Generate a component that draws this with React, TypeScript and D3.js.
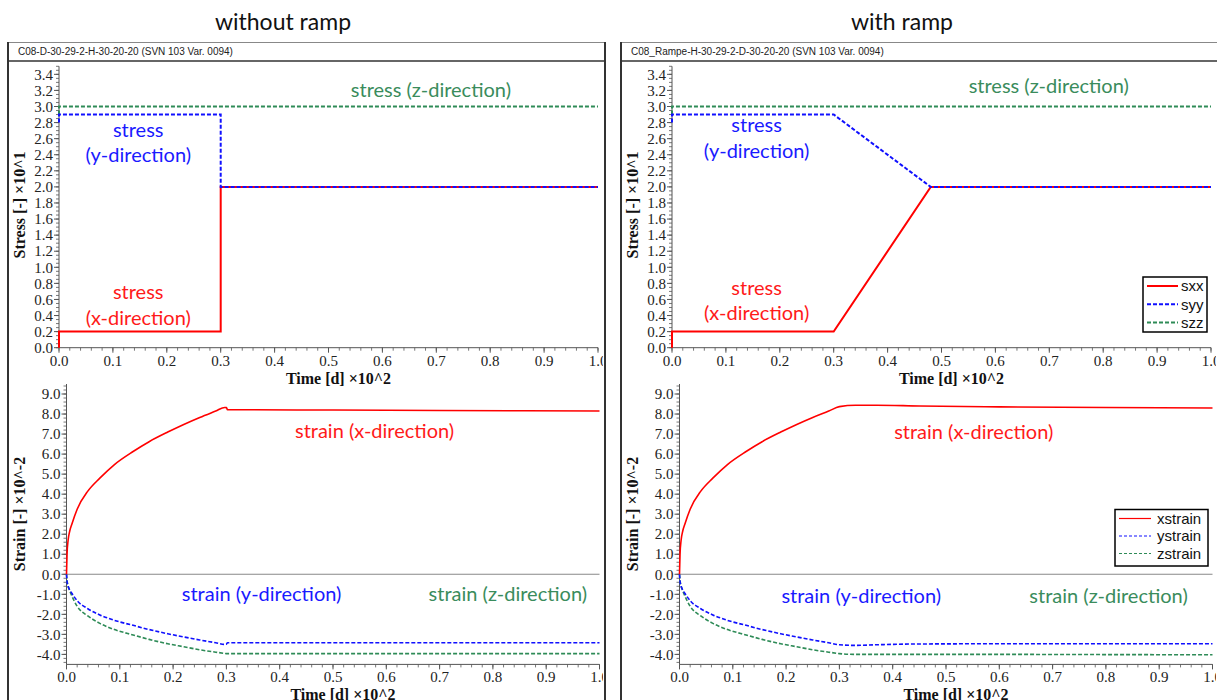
import React from "react";
import * as d3 from "d3";

// ---------- DATA ----------
const panelTitles = ["without ramp", "with ramp"];
const headerTexts = [
  "C08-D-30-29-2-H-30-20-20 (SVN 103 Var. 0094)",
  "C08_Rampe-H-30-29-2-D-30-20-20 (SVN 103 Var. 0094)",
];

// stress (x10^1), time (x10^2 d)
const sxxTimeL = [0, 0, 0.3, 0.3, 1.0];
const sxxL = [0, 0.2, 0.2, 2.0, 2.0];
const syyTimeL = [0, 0, 0.3, 0.3, 1.0];
const syyL = [2.8, 2.9, 2.9, 2.0, 2.0];
const szzTimeL = [0, 0, 1.0];
const szzL = [2.9, 3.0, 3.0];

const sxxTimeR = [0, 0, 0.3, 0.48, 1.0];
const sxxR = [0, 0.2, 0.2, 2.0, 2.0];
const syyTimeR = [0, 0, 0.3, 0.48, 1.0];
const syyR = [2.8, 2.9, 2.9, 2.0, 2.0];
const szzTimeR = [0, 0, 1.0];
const szzR = [2.9, 3.0, 3.0];

// strain (x10^-2)
const strainTimeL = [0, 0.001, 0.003, 0.006, 0.01, 0.02, 0.04, 0.0625, 0.09, 0.125, 0.155, 0.19, 0.22, 0.25, 0.28, 0.297, 0.3, 0.302, 0.5, 0.7, 1.0];
const xstrainL = [0, 1.0, 1.7, 2.15, 2.5, 3.25, 4.15, 4.8, 5.48, 6.13, 6.62, 7.1, 7.48, 7.83, 8.15, 8.33, 8.32, 8.22, 8.2, 8.18, 8.15];
const ystrainL = [0, -0.35, -0.6, -0.78, -0.95, -1.32, -1.72, -2.03, -2.3, -2.55, -2.76, -2.97, -3.13, -3.28, -3.42, -3.5, -3.49, -3.42, -3.42, -3.42, -3.42];
const zstrainL = [0, -0.3, -0.58, -0.82, -1.08, -1.6, -2.08, -2.45, -2.76, -3.03, -3.25, -3.47, -3.62, -3.77, -3.89, -3.95, -3.96, -3.96, -3.96, -3.96, -3.96];

const strainTimeR = [0, 0.001, 0.003, 0.006, 0.01, 0.02, 0.04, 0.0625, 0.09, 0.125, 0.155, 0.19, 0.22, 0.25, 0.28, 0.3, 0.33, 0.37, 0.45, 0.6, 0.8, 1.0];
const xstrainR = [0, 1.0, 1.7, 2.15, 2.5, 3.25, 4.15, 4.8, 5.48, 6.13, 6.62, 7.1, 7.48, 7.83, 8.15, 8.37, 8.44, 8.44, 8.4, 8.36, 8.33, 8.3];
const ystrainR = [0, -0.35, -0.6, -0.78, -0.95, -1.32, -1.72, -2.03, -2.3, -2.55, -2.76, -2.97, -3.13, -3.28, -3.42, -3.52, -3.55, -3.52, -3.48, -3.47, -3.47, -3.47];
const zstrainR = [0, -0.3, -0.58, -0.82, -1.08, -1.6, -2.08, -2.45, -2.76, -3.03, -3.25, -3.47, -3.62, -3.77, -3.89, -3.96, -4.0, -4.0, -4.0, -4.0, -4.01, -4.02];

const stressLegend = ["sxx", "syy", "szz"];
const strainLegend = ["xstrain", "ystrain", "zstrain"];

// annotations in data coordinates: [text, t, value, colorKey]
const stressNotesL: [string, number, number, string][] = [
  ["stress (z-direction)", 0.69, 3.2, "z"],
  ["stress", 0.147, 2.71, "y"],
  ["(y-direction)", 0.147, 2.4, "y"],
  ["stress", 0.147, 0.69, "x"],
  ["(x-direction)", 0.147, 0.37, "x"],
];
const stressNotesR: [string, number, number, string][] = [
  ["stress (z-direction)", 0.699, 3.25, "z"],
  ["stress", 0.157, 2.77, "y"],
  ["(y-direction)", 0.157, 2.45, "y"],
  ["stress", 0.157, 0.74, "x"],
  ["(x-direction)", 0.157, 0.43, "x"],
];
const strainNotesL: [string, number, number, string][] = [
  ["strain (x-direction)", 0.578, 7.15, "x"],
  ["strain (y-direction)", 0.366, -0.98, "y"],
  ["strain (z-direction)", 0.828, -0.98, "z"],
];
const strainNotesR: [string, number, number, string][] = [
  ["strain (x-direction)", 0.552, 7.1, "x"],
  ["strain (y-direction)", 0.341, -1.08, "y"],
  ["strain (z-direction)", 0.805, -1.08, "z"],
];

// ---------- STYLE ----------
const RED = "#ff0000";
const BLUE = "#1010ff";
const GREEN = "#2e8b57";
const TXT: Record<string, string> = { x: "#ff1a1a", y: "#1a1aff", z: "#3a8c5c" };
const SERIF = "'Liberation Serif', 'Times New Roman', serif";
const SANS = "Arial, 'Liberation Sans', sans-serif";
const NOTE = "Lato, 'Open Sans', sans-serif";

const zip = (t: number[], v: number[]) => t.map((d, i) => [d, v[i]] as [number, number]);

type Series = { pts: [number, number][]; color: string; width: number; dash?: string };

function Axes({ x, y, yTicks, yMinor, xTitleY, yTitle, yTitleCy, tickFmt }: any) {
  const [x0, x1] = x.range();
  const [yb, yt] = y.range();
  const xMajor = d3.range(0, 1.0001, 0.1);
  const xMinor = d3.range(0, 1.0001, 0.02);
  return (
    <g>
      <line x1={x0} x2={x0} y1={yb} y2={yt} stroke="#555" strokeWidth={1} />
      {yMinor.map((v: number, i: number) => (
        <line key={"ym" + i} x1={x0 - 3} x2={x0} y1={y(v)} y2={y(v)} stroke="#555" strokeWidth={0.8} />
      ))}
      {yTicks.map((v: number, i: number) => (
        <g key={"yt" + i}>
          <line x1={x0 - 5} x2={x0} y1={y(v)} y2={y(v)} stroke="#555" strokeWidth={1} />
          <text x={x0 - 6} y={y(v)} dy="0.35em" textAnchor="end" fontFamily={SERIF} fontSize={15} fill="#222">
            {tickFmt(v)}
          </text>
        </g>
      ))}
      <line x1={x0} x2={x1} y1={yb} y2={yb} stroke="#555" strokeWidth={1} />
      {xMinor.map((v: number, i: number) => (
        <line key={"xm" + i} x1={x(v)} x2={x(v)} y1={yb} y2={yb + 3} stroke="#555" strokeWidth={0.8} />
      ))}
      {xMajor.map((v: number, i: number) => (
        <g key={"xt" + i}>
          <line x1={x(v)} x2={x(v)} y1={yb} y2={yb + 5} stroke="#555" strokeWidth={1} />
          <text x={x(v)} y={yb + 18} textAnchor="middle" fontFamily={SERIF} fontSize={15} fill="#222">
            {v.toFixed(1)}
          </text>
        </g>
      ))}
      <text x={(x0 + x1) / 2 + 10} y={xTitleY} textAnchor="middle" fontFamily={SERIF} fontWeight="bold" fontSize={16} fill="#111">
        Time [d] ×10^2
      </text>
      <text
        transform={`translate(25,${yTitleCy}) rotate(-90)`}
        textAnchor="middle"
        fontFamily={SERIF}
        fontWeight="bold"
        fontSize={16}
        fill="#111"
      >
        {yTitle}
      </text>
    </g>
  );
}

function Legend({ x, y, w, h, names, series, fontSize, rowH, lineLen, textGap }: any) {
  return (
    <g>
      <rect x={x} y={y} width={w} height={h} fill="#fff" stroke="#000" strokeWidth={1.5} />
      {names.map((n: string, i: number) => {
        const cy = y + 9 + i * rowH;
        const s: Series = series[i];
        return (
          <g key={n}>
            <line x1={x + 4} x2={x + 4 + lineLen} y1={cy} y2={cy} stroke={s.color} strokeWidth={s.width} strokeDasharray={s.dash} />
            <text x={x + lineLen + textGap} y={cy} dy="0.35em" fontFamily={SANS} fontSize={fontSize} fill="#111">
              {n}
            </text>
          </g>
        );
      })}
    </g>
  );
}

function Panel({ idx, dx }: { idx: number; dx: number }) {
  const isR = idx === 1;
  const xTop = d3.scaleLinear().domain([0, 1]).range([59, 598]);
  const yTop = d3.scaleLinear().domain([0, 3.5]).range([347.7, 66.3]);
  const xBot = d3.scaleLinear().domain([0, 1]).range([66.5, 599.5]);
  const yBot = d3.scaleLinear().domain([-4.5, 9.5]).range([664.4, 384.0]);
  const line = (xs: any, ys: any) =>
    d3
      .line<[number, number]>()
      .x((d) => xs(d[0]))
      .y((d) => ys(d[1]));
  const smooth = (xs: any, ys: any) =>
    d3
      .line<[number, number]>()
      .x((d) => xs(d[0]))
      .y((d) => ys(d[1]))
      .curve(d3.curveMonotoneX);

  const stress: Series[] = isR
    ? [
        { pts: zip(szzTimeR, szzR), color: GREEN, width: 2, dash: "4,2" },
        { pts: zip(sxxTimeR, sxxR), color: RED, width: 2 },
        { pts: zip(syyTimeR, syyR), color: BLUE, width: 2, dash: "4,2" },
      ]
    : [
        { pts: zip(szzTimeL, szzL), color: GREEN, width: 2, dash: "4,2" },
        { pts: zip(sxxTimeL, sxxL), color: RED, width: 2 },
        { pts: zip(syyTimeL, syyL), color: BLUE, width: 2, dash: "4,2" },
      ];
  const strainT = isR ? strainTimeR : strainTimeL;
  const strain: Series[] = [
    { pts: zip(strainT, isR ? zstrainR : zstrainL), color: GREEN, width: 1.6, dash: "4,2" },
    { pts: zip(strainT, isR ? ystrainR : ystrainL), color: BLUE, width: 1.6, dash: "4,2" },
    { pts: zip(strainT, isR ? xstrainR : xstrainL), color: RED, width: 1.6 },
  ];
  const stressNotes = isR ? stressNotesR : stressNotesL;
  const strainNotes = isR ? strainNotesR : strainNotesL;
  const clipId = "clip" + idx;
  const titleX = isR ? 289 : 283;

  return (
    <g transform={`translate(${dx},0)`}>
      <defs>
        <clipPath id={clipId}>
          <rect x={9} y={42} width={594} height={660} />
        </clipPath>
      </defs>
      <text x={titleX} y={30} textAnchor="middle" fontFamily={NOTE} fontSize={23} fill="#111">
        {panelTitles[idx]}
      </text>
      <rect x={8} y={42.5} width={597} height={680} fill="#fff" stroke="#888" strokeWidth={1} />
      <line x1={8} x2={8} y1={42} y2={700} stroke="#333" strokeWidth={2} />
      <line x1={605} x2={605} y1={42} y2={700} stroke="#333" strokeWidth={2} />
      <line x1={8} x2={605} y1={61} y2={61} stroke="#333" strokeWidth={1.5} />
      <text x={18} y={55} fontFamily={SANS} fontSize={10} fill="#222">
        {headerTexts[idx]}
      </text>

      <g clipPath={`url(#${clipId})`}>
        <Axes
          x={xTop}
          y={yTop}
          yTicks={d3.range(0, 3.41, 0.2)}
          yMinor={d3.range(0, 3.501, 0.05)}
          xTitleY={384}
          yTitle="Stress [-] ×10^1"
          yTitleCy={205}
          tickFmt={(v: number) => v.toFixed(1)}
        />
        {stress.map((s, i) => (
          <path key={"s" + i} d={line(xTop, yTop)(s.pts) || ""} fill="none" stroke={s.color} strokeWidth={s.width} strokeDasharray={s.dash} />
        ))}
        {stressNotes.map(([t, a, v, c], i) => (
          <text key={"sn" + i} x={xTop(a)} y={yTop(v)} dy="0.35em" textAnchor="middle" fontFamily={NOTE} fontSize={20} fill={TXT[c]}>
            {t}
          </text>
        ))}

        <line x1={xBot(0)} x2={xBot(1)} y1={yBot(0)} y2={yBot(0)} stroke="#888" strokeWidth={1.2} />
        <Axes
          x={xBot}
          y={yBot}
          yTicks={d3.range(-4, 9.01, 1)}
          yMinor={d3.range(-4.4, 9.41, 0.2)}
          xTitleY={700}
          yTitle="Strain [-] ×10^-2"
          yTitleCy={514}
          tickFmt={(v: number) => v.toFixed(1)}
        />
        {strain.map((s, i) => (
          <path key={"st" + i} d={smooth(xBot, yBot)(s.pts) || ""} fill="none" stroke={s.color} strokeWidth={s.width} strokeDasharray={s.dash} />
        ))}
        {strainNotes.map(([t, a, v, c], i) => (
          <text key={"tn" + i} x={xBot(a)} y={yBot(v)} dy="0.35em" textAnchor="middle" fontFamily={NOTE} fontSize={20} fill={TXT[c]}>
            {t}
          </text>
        ))}

        {isR && (
          <>
            <Legend
              x={530}
              y={277}
              w={64}
              h={55}
              names={stressLegend}
              series={[stress[1], stress[2], stress[0]]}
              fontSize={15}
              rowH={18.3}
              lineLen={31}
              textGap={7}
            />
            <Legend
              x={502}
              y={509.5}
              w={93}
              h={56.5}
              names={strainLegend}
              series={[
                { ...strain[2], width: 1.2 },
                { ...strain[1], width: 1.2, dash: "3,2" },
                { ...strain[0], width: 1.2, dash: "3,2" },
              ]}
              fontSize={15}
              rowH={17.5}
              lineLen={32}
              textGap={10}
            />
          </>
        )}
      </g>
    </g>
  );
}

export default function App() {
  return (
    <svg
      width={1217}
      height={700}
      style={{ position: "absolute", left: 0, top: 0, background: "#fff" }}
      xmlns="http://www.w3.org/2000/svg"
    >
      <rect x={0} y={0} width={1217} height={700} fill="#fff" />
      <Panel idx={0} dx={0} />
      <Panel idx={1} dx={613} />
    </svg>
  );
}
